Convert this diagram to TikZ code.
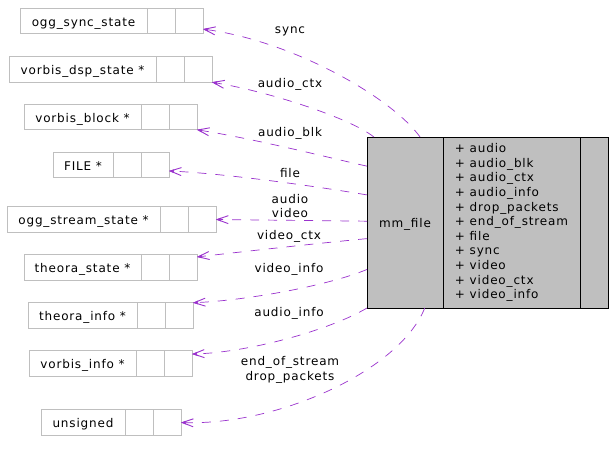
\documentclass[tikz,border=0pt]{standalone}
\usepackage{fontspec}
\setmainfont{DejaVu Sans}[LetterSpace=7]
\usetikzlibrary{arrows.meta,positioning}
\definecolor{edgepurple}{HTML}{9A32CD}
\definecolor{boxgray}{HTML}{BFBFBF}

\begin{document}
\begin{tikzpicture}[x=1pt, y=-1pt,
    font=\fontsize{12}{14.65}\selectfont,
    member/.style={rectangle, draw=boxgray, line width=0.8pt, minimum height=25.5pt, inner sep=0pt, outer sep=0pt, text height=10pt, text depth=0pt},
    cell/.style={member, minimum width=28pt},
    mainbox/.style={rectangle, draw=black, fill=boxgray, line width=0.8pt, minimum height=171pt, inner sep=0pt, outer sep=0pt},
    link/.style={draw=edgepurple, line width=0.7pt, dash pattern=on 9pt off 9pt, -{Straight Barb[length=11pt,width=8pt,line width=0.9pt,sep=-5pt]Triangle[length=5pt,width=3.5pt]}},
    lbl/.style={anchor=base, inner sep=0pt, align=center}
]
\useasboundingbox (0,0) rectangle (613,451);

% Referenced types
\node[member, minimum width=127pt] (osync) at (83.5,21) {ogg\_sync\_state};
\node[cell, right=0pt of osync] (osync2) {};
\node[cell, right=0pt of osync2] (osync3) {};

\node[member, minimum width=147pt] (odsp) at (82.5,69.5) {vorbis\_dsp\_state *};
\node[cell, right=0pt of odsp] (odsp2) {};
\node[cell, right=0pt of odsp2] (odsp3) {};

\node[member, minimum width=117pt] (oblock) at (82.5,117) {vorbis\_block *};
\node[cell, right=0pt of oblock] (oblock2) {};
\node[cell, right=0pt of oblock2] (oblock3) {};

\node[member, minimum width=60pt] (ofile) at (83,165) {FILE *};
\node[cell, right=0pt of ofile] (ofile2) {};
\node[cell, right=0pt of ofile2] (ofile3) {};

\node[member, minimum width=153pt] (ostream) at (83.5,219.5) {ogg\_stream\_state *};
\node[cell, right=0pt of ostream] (ostream2) {};
\node[cell, right=0pt of ostream2] (ostream3) {};

\node[member, minimum width=117pt] (tstate) at (82.5,267.5) {theora\_state *};
\node[cell, right=0pt of tstate] (tstate2) {};
\node[cell, right=0pt of tstate2] (tstate3) {};

\node[member, minimum width=109pt] (tinfo) at (82.5,315.5) {theora\_info *};
\node[cell, right=0pt of tinfo] (tinfo2) {};
\node[cell, right=0pt of tinfo2] (tinfo3) {};

\node[member, minimum width=107pt] (vinfo) at (82.5,363.5) {vorbis\_info *};
\node[cell, right=0pt of vinfo] (vinfo2) {};
\node[cell, right=0pt of vinfo2] (vinfo3) {};

\node[member, minimum width=84pt] (unsig) at (83,422.5) {unsigned};
\node[cell, right=0pt of unsig] (unsig2) {};
\node[cell, right=0pt of unsig2] (unsig3) {};

% The struct itself
\node[mainbox, minimum width=76pt, text height=10pt, text depth=0pt] (mmname) at (405,222.5) {mm\_file};
\node[mainbox, minimum width=137pt, right=0pt of mmname, align=left] (mmattr) {+ audio\\+ audio\_blk\\+ audio\_ctx\\+ audio\_info\\+ drop\_packets\\+ end\_of\_stream\\+ file\\+ sync\\+ video\\+ video\_ctx\\+ video\_info};
\node[mainbox, minimum width=28pt, right=0pt of mmattr] (mmop) {};

% Usage relations
\draw[link] (mmname.80) .. controls (392,98) and (295,42) .. (osync3.-30);
\draw[link] (mmname.110) .. controls (350,118) and (270,92) .. (odsp3.south east);
\draw[link] (mmname.124) .. controls (330,158) and (260,140) .. (oblock3.south east);
\draw[link] (mmname.144) .. controls (320,187) and (230,174) .. (ofile3.-23);
\draw[link] (mmname.178) -- (ostream3.east);
\draw[link] (mmname.203) .. controls (320,243) and (240,252) .. (tstate3.37);
\draw[link] (mmname.231) .. controls (330,285) and (250,300) .. (tinfo3.north east);
\draw[link] (mmname.south west) .. controls (330,330) and (250,352) .. (vinfo3.34);
\draw[link] (mmname.-77) .. controls (400,370) and (280,425) .. (unsig3.east);

% Edge labels
\node[lbl] (lsync) at (290,33.5) {sync};
\node[lbl] (lactx) at (290,87.7) {audio\_ctx};
\node[lbl] (lablk) at (290,136) {audio\_blk};
\node[lbl] (lfile) at (290,177.7) {file};
\node[lbl] (lav) at (290,217.7) {audio\\video};
\node[lbl] (lvctx) at (289,239) {video\_ctx};
\node[lbl] (lvinfo) at (289,272) {video\_info};
\node[lbl] (lainfo) at (289,316) {audio\_info};
\node[lbl] (leos) at (290,380) {end\_of\_stream\\drop\_packets};

\end{tikzpicture}
\end{document}
